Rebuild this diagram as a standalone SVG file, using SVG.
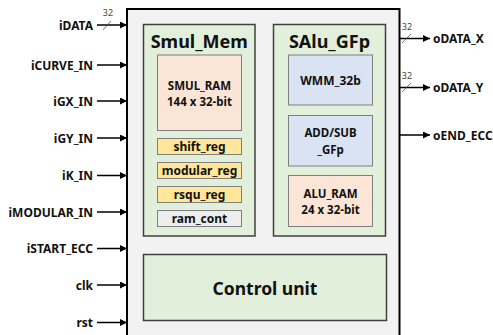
<svg xmlns="http://www.w3.org/2000/svg" width="493" height="335" viewBox="0 0 493 335">
<defs>
<marker id="ah" viewBox="0 0 10 10" refX="10" refY="5" markerWidth="7" markerHeight="7" markerUnits="userSpaceOnUse" orient="auto">
<path d="M0,0 L10,5 L0,10 z" fill="#000"/>
</marker>
</defs>
<style>
text{font-family:"Noto Sans","Liberation Sans",sans-serif;font-weight:bold;fill:#111}
.lbl{font-size:12px;dominant-baseline:central}
.sig{stroke:#000;stroke-width:1.5;fill:none}
.bus{stroke:#555;stroke-width:0.8}
.num{font-size:9px;font-weight:normal;fill:#444}
.grp{fill:#e2efda;stroke:#404040;stroke-width:1.5}
.sub{stroke:#7f7f7f;stroke-width:1}
.ttl{font-size:18px;text-anchor:middle}
.in{font-size:12px;text-anchor:middle;dominant-baseline:central}
.in2{font-size:11.5px;text-anchor:middle;dominant-baseline:central}
</style>
<rect width="493" height="335" fill="#fff"/>
<g id="top">
<rect x="127" y="9" width="272.5" height="340" fill="#f2f2f2" stroke="#000" stroke-width="2"/>
</g>
<g id="smul_mem">
<rect class="grp" x="143.5" y="24.5" width="111.5" height="211.5"/>
<text class="ttl" x="199.3" y="48">Smul_Mem</text>
</g>
<g id="smul_ram">
<rect class="sub" x="157.5" y="55" width="84" height="75.5" fill="#fbe5d6"/>
<text class="in2" x="199.5" y="85">SMUL_RAM</text>
<text class="in2" x="199.5" y="101.5">144 x 32-bit</text>
</g>
<g id="shift_reg">
<rect class="sub" x="157.5" y="138.5" width="84" height="16" fill="#ffe699"/>
<text class="in" x="199.5" y="146.5">shift_reg</text>
</g>
<g id="modular_reg">
<rect class="sub" x="157.5" y="162.5" width="84" height="16" fill="#ffe699"/>
<text class="in" x="199.5" y="170.5">modular_reg</text>
</g>
<g id="rsqu_reg">
<rect class="sub" x="157.5" y="186.5" width="84" height="16" fill="#ffe699"/>
<text class="in" x="199.5" y="194.5">rsqu_reg</text>
</g>
<g id="ram_cont">
<rect class="sub" x="157.5" y="210.5" width="84" height="16" fill="#ededed"/>
<text class="in" x="199.5" y="218.5">ram_cont</text>
</g>
<g id="salu_gfp">
<rect class="grp" x="273.5" y="24.5" width="112" height="211.5"/>
<text class="ttl" x="329.5" y="48">SAlu_GFp</text>
</g>
<g id="wmm_32b">
<rect class="sub" x="288.5" y="55" width="84" height="50" fill="#dae3f3"/>
<text class="in" x="330.5" y="80">WMM_32b</text>
</g>
<g id="add_sub">
<rect class="sub" x="288.5" y="115.5" width="84" height="50.5" fill="#dae3f3"/>
<text class="in2" x="330.5" y="132.5">ADD/SUB</text>
<text class="in2" x="330.5" y="149">_GFp</text>
</g>
<g id="alu_ram">
<rect class="sub" x="288.5" y="175.5" width="84" height="51" fill="#fbe5d6"/>
<text class="in2" x="330.5" y="193">ALU_RAM</text>
<text class="in2" x="330.5" y="209.5">24 x 32-bit</text>
</g>
<g id="control_unit">
<rect class="grp" x="143.5" y="254.5" width="243" height="66"/>
<text x="265" y="288" font-size="17.5px" text-anchor="middle" dominant-baseline="central">Control unit</text>
</g>
<g id="connectors">
<path class="sig" marker-end="url(#ah)" d="M97,25 H127"/>
<path class="sig" marker-end="url(#ah)" d="M97,65 H127"/>
<path class="sig" marker-end="url(#ah)" d="M97,101 H127"/>
<path class="sig" marker-end="url(#ah)" d="M97,138 H127"/>
<path class="sig" marker-end="url(#ah)" d="M97,175.5 H127"/>
<path class="sig" marker-end="url(#ah)" d="M97,212 H127"/>
<path class="sig" marker-end="url(#ah)" d="M97,248.5 H127"/>
<path class="sig" marker-end="url(#ah)" d="M97,285 H127"/>
<path class="sig" marker-end="url(#ah)" d="M97,322.5 H127"/>
<path class="sig" marker-end="url(#ah)" d="M400,38.5 H430"/>
<path class="sig" marker-end="url(#ah)" d="M400,87.5 H430"/>
<path class="sig" marker-end="url(#ah)" d="M400,135 H430"/>
<path class="bus" d="M103,30 L111,21"/>
<path class="bus" d="M402,43 L411,34"/>
<path class="bus" d="M402,92 L411,83"/>
<text class="num" x="108" y="16" text-anchor="middle">32</text>
<text class="num" x="407" y="30" text-anchor="middle">32</text>
<text class="num" x="407" y="79" text-anchor="middle">32</text>
</g>
<g id="labels">
<text class="lbl" x="93" y="25" text-anchor="end">iDATA</text>
<text class="lbl" x="93" y="65" text-anchor="end">iCURVE_IN</text>
<text class="lbl" x="93" y="101" text-anchor="end">iGX_IN</text>
<text class="lbl" x="93" y="138" text-anchor="end">iGY_IN</text>
<text class="lbl" x="93" y="175.5" text-anchor="end">iK_IN</text>
<text class="lbl" x="93" y="212" text-anchor="end">iMODULAR_IN</text>
<text class="lbl" x="93" y="248.5" text-anchor="end">iSTART_ECC</text>
<text class="lbl" x="93" y="285" text-anchor="end">clk</text>
<text class="lbl" x="93" y="322.5" text-anchor="end">rst</text>
<text class="lbl" x="433" y="38.5">oDATA_X</text>
<text class="lbl" x="433" y="87.5">oDATA_Y</text>
<text class="lbl" x="433" y="135">oEND_ECC</text>
</g>
</svg>
